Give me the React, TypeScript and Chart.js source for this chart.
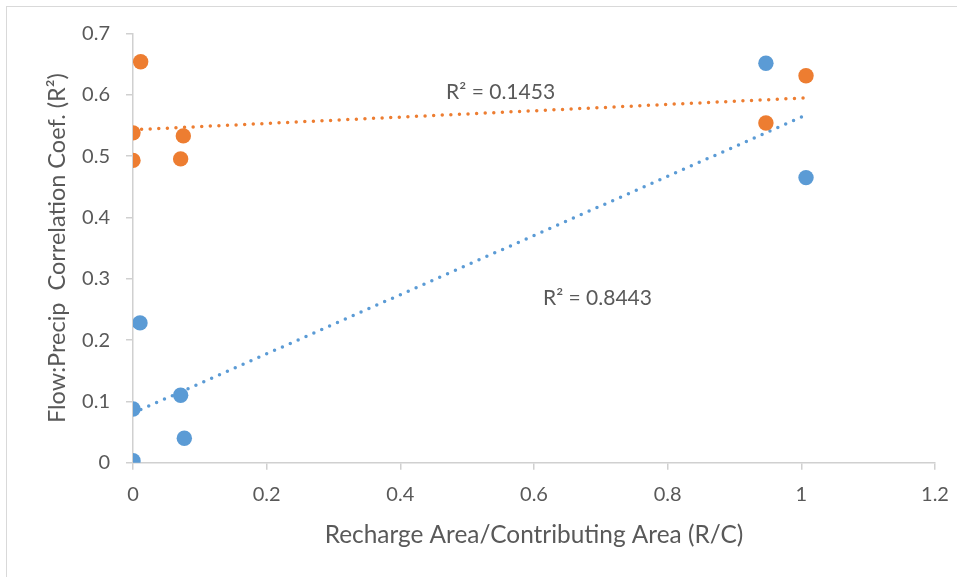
import React, { useEffect, useRef } from "react";
import { Chart, registerables } from "chart.js";

Chart.register(...registerables);

// Series: Recharge/Contributing area ratio vs Flow:Precip correlation
const blueX = [0.947, 1.007, 0.0105, 0, 0.0713, 0.0768, 0];
const blueY = [0.6515, 0.465, 0.228, 0.0876, 0.11, 0.0398, 0.0033];
const orangeX = [0.0115, 0, 0, 0.0753, 0.0713, 0.947, 1.007];
const orangeY = [0.654, 0.538, 0.493, 0.533, 0.4955, 0.554, 0.631];

// Trendline endpoints
const blueTrendX = [0, 1.007];
const blueTrendY = [0.081, 0.567];
const orangeTrendX = [0, 1.007];
const orangeTrendY = [0.543, 0.595];

// R² annotations
const annTexts = ["R² = 0.1453", "R² = 0.8443"];
const annX = [0.55, 0.695];
const annY = [0.605, 0.269];

const xTickLabels = ["0", "0.2", "0.4", "0.6", "0.8", "1", "1.2"];
const yTickLabels = ["0", "0.1", "0.2", "0.3", "0.4", "0.5", "0.6", "0.7"];

const BLUE = "#5B9BD5";
const ORANGE = "#ED7D31";
const TEXT = "#595959";
const AXIS = "#d0d0d0";
const FONT = "Lato";

const toPts = (xs: number[], ys: number[]) => xs.map((x, i) => ({ x, y: ys[i] }));

const annotationPlugin = {
  id: "r2labels",
  afterDatasetsDraw(chart: any) {
    const { ctx, scales } = chart;
    ctx.save();
    ctx.fillStyle = TEXT;
    ctx.font = `21px ${FONT}`;
    ctx.textAlign = "center";
    ctx.textBaseline = "middle";
    annTexts.forEach((t, i) => {
      ctx.fillText(t, scales.x.getPixelForValue(annX[i]), scales.y.getPixelForValue(annY[i]));
    });
    ctx.restore();
  },
};

export default function App() {
  const ref = useRef<HTMLCanvasElement | null>(null);
  useEffect(() => {
    if (!ref.current) return;
    const chart = new Chart(ref.current, {
      type: "scatter",
      data: {
        datasets: [
          {
            label: "blue",
            data: toPts(blueX, blueY),
            backgroundColor: BLUE,
            borderWidth: 0,
            pointRadius: 7.7,
          },
          {
            label: "orange",
            data: toPts(orangeX, orangeY),
            backgroundColor: ORANGE,
            borderWidth: 0,
            pointRadius: 7.7,
          },
          {
            label: "blueTrend",
            data: toPts(blueTrendX, blueTrendY),
            showLine: true,
            borderColor: BLUE,
            borderWidth: 3.5,
            borderDash: [0, 8.6],
            borderCapStyle: "round",
            pointRadius: 0,
          } as any,
          {
            label: "orangeTrend",
            data: toPts(orangeTrendX, orangeTrendY),
            showLine: true,
            borderColor: ORANGE,
            borderWidth: 3.5,
            borderDash: [0, 8.6],
            borderCapStyle: "round",
            pointRadius: 0,
          } as any,
        ],
      },
      options: {
        animation: false,
        responsive: false,
        events: [],
        layout: { padding: { left: 0, top: 33.5, right: 22, bottom: 0 } },
        plugins: { legend: { display: false }, tooltip: { enabled: false } },
        scales: {
          x: {
            type: "linear",
            min: 0,
            max: 1.2,
            afterFit: (s: any) => {
              s.height = 114.3;
              s.paddingLeft = 0;
              s.paddingRight = 0;
            },
            ticks: {
              stepSize: 0.2,
              color: TEXT,
              font: { family: FONT, size: 20 },
              padding: 13,
              maxRotation: 0,
              callback: (_v: any, i: number) => xTickLabels[i],
            },
            grid: { display: true, drawOnChartArea: false, drawTicks: true, tickLength: 7, color: AXIS, lineWidth: 1.5 },
            border: { display: true, color: AXIS, width: 1.5 },
            title: {
              display: true,
              text: "Recharge Area/Contributing Area (R/C)",
              color: TEXT,
              font: { family: FONT, size: 24.4 },
              padding: { top: 0, bottom: 27.5 },
            },
          },
          y: {
            type: "linear",
            min: 0,
            max: 0.7,
            afterFit: (s: any) => {
              s.width = 133;
              s.paddingTop = 0;
              s.paddingBottom = 0;
            },
            ticks: {
              stepSize: 0.1,
              color: TEXT,
              font: { family: FONT, size: 20 },
              padding: 16,
              callback: (_v: any, i: number) => yTickLabels[i],
            },
            grid: { display: true, drawOnChartArea: false, drawTicks: true, tickLength: 7, color: AXIS, lineWidth: 1.5 },
            border: { display: true, color: AXIS, width: 1.5 },
            title: {
              display: true,
              text: "Flow:Precip  Correlation Coef. (R²)",
              color: TEXT,
              font: { family: FONT, size: 23.5 },
              padding: { top: 43, bottom: 0 },
            },
          },
        },
      },
      plugins: [annotationPlugin],
    });
    return () => chart.destroy();
  }, []);

  return (
    <div style={{ position: "absolute", left: 0, top: 0, width: 957, height: 577, background: "#fff" }}>
      <div
        style={{
          position: "absolute",
          left: 6,
          top: 6,
          width: 1000,
          height: 1000,
          borderLeft: "1.5px solid #d9d9d9",
          borderTop: "1.5px solid #d9d9d9",
          boxSizing: "border-box",
        }}
      />
      <canvas ref={ref} width={957} height={577} style={{ position: "absolute", left: 0, top: 0, width: 957, height: 577 }} />
    </div>
  );
}
